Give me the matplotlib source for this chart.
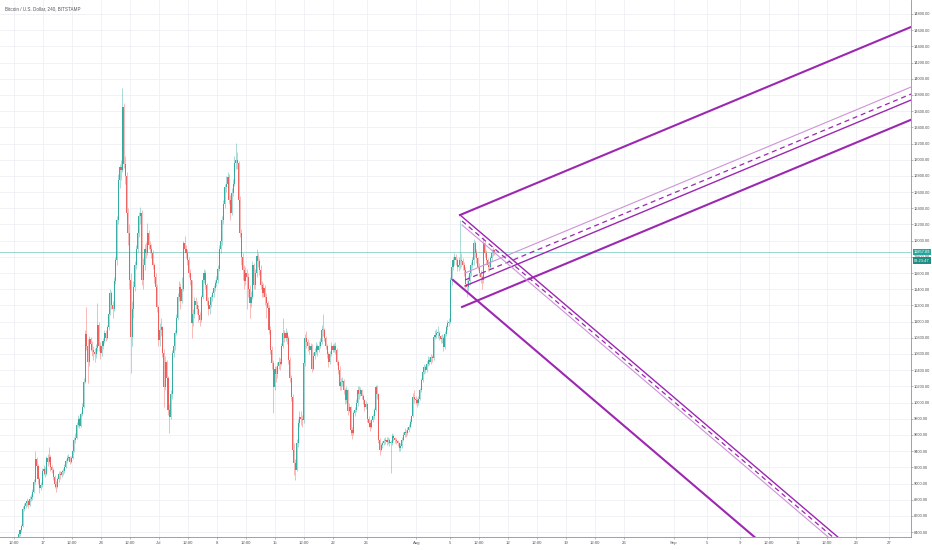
import numpy as np
import matplotlib
matplotlib.use('Agg')
import matplotlib.pyplot as plt
from matplotlib.transforms import blended_transform_factory

# ── data: BTC/USD 4h candles, days counted from 1 Jul ─────────────────────────
START_DAY  = -17          # first candle = 14 Jun 00:00
FIRST_OPEN = 8300
LAST_PRICE = 11857.89

close = [
    8380, 8420, 8470, 8690, 8720, 8760,        # Jun 14
    8780, 8740, 8810, 8830, 8900, 9020,
    9300, 9220, 9050, 8950, 8980, 9150,
    9180, 9120, 9310, 9270, 9330, 9200,
    9170, 9080, 8990, 8960, 9050, 9120,
    9100, 9140, 9150, 9210, 9280, 9320,
    9330, 9270, 9310, 9400, 9540, 9560,        # Jun 20
    9720, 9800, 9710, 9860, 9950, 10250,
    10850, 10700, 10500, 10780, 10720, 10650,
    10620, 10600, 10680, 10960, 10700, 10610,
    10700, 10760, 10860, 10800, 10935, 11100,
    11350, 11200, 11150, 11500, 11760, 12255,
    12750, 12910, 12870, 13650, 12950, 12800,  # Jun 26
    12340, 12100, 11510, 10810, 11150, 11430,
    11700, 11900, 12100, 12300, 12340, 11510,
    11700, 11900, 11850, 12100, 11950, 11900,
    11850, 11700, 11550, 11430, 11180, 10770,
    10900, 10935, 10610, 10190, 10500, 10300,  # Jul 1
    9910, 9825, 10100, 10610, 10700, 10860,
    11050, 11300, 11430, 11250, 11400, 11970,
    11900, 11850, 11760, 11600, 11510, 10985,
    11100, 11250, 11200, 11150, 11080, 11020,
    11300, 11510, 11600, 11450, 11250, 11150,
    11200, 11300, 11350, 11420, 11480, 11510,
    11650, 11900, 12000, 12255, 12450, 12665,  # Jul 8
    12700, 12790, 12500, 12340, 12590, 12700,
    12960, 12995, 12960, 12500, 12100, 11800,
    11640, 11500, 11600, 11550, 11400, 11230,
    11300, 11700, 11450, 11600, 11810, 11750,
    11640, 11450, 11350, 11420, 11300, 11230,
    11170, 10900, 10650, 10490, 10190, 10420,
    10350, 10450, 10500, 10480, 10700, 10860,  # Jul 15
    10800, 10860, 10800, 10530, 10300, 10070,
    9415, 9250, 9170, 9500, 9750, 9825,
    9800, 9780, 10490, 10800, 10750, 10700,
    10650, 10700, 10420, 10580, 10620, 10700,
    10650, 10700, 10750, 10900, 10900, 10800,
    10700, 10600, 10500, 10600, 10700, 10650,
    10700, 10650, 10500, 10400, 10200, 10250,  # Jul 22
    10270, 10150, 10030, 10150, 9900, 9950,
    9660, 9625, 9870, 9910, 10000, 10160,
    10100, 10160, 10080, 10030, 9950, 9980,
    9800, 9750, 9700, 9780, 9830, 9910,
    10190, 10100, 9540, 9415, 9470, 9500,
    9520, 9540, 9510, 9540, 9500, 9500,
    9590, 9560, 9540, 9520, 9500, 9440,        # Jul 29
    9460, 9540, 9600, 9640, 9620, 9660,
    9700, 9760, 9830, 10070, 10050, 10030,
    10000, 10050, 10150, 10280, 10380, 10440,  # Aug 1
    10400, 10480, 10530, 10500, 10560, 10550,
    10810, 10840, 10860, 10860, 10820, 10780,
    10800, 10690, 10850, 10935, 10985, 11000,
    11510, 11680, 11760, 11800, 11760, 11680,  # Aug 5
    11700, 11760, 11750, 11700, 11640, 11470,
    11430, 11500, 11600, 11700, 11760, 11970,
    11850, 11780, 11680, 11600, 11550, 11510,
    11970, 11850, 11760, 11700, 11680, 11780,
    11850, 11880, 11858,
]

high = [
    8400, 8440, 8500, 8720, 8760, 8790,
    8820, 8800, 8840, 8870, 8930, 9060,
    9400, 9330, 9240, 9080, 9020, 9190,
    9230, 9200, 9340, 9360, 9450, 9350,
    9230, 9190, 9100, 9030, 9080, 9150,
    9150, 9170, 9190, 9240, 9300, 9350,
    9360, 9340, 9340, 9420, 9570, 9620,
    9760, 9850, 9820, 9880, 9990, 10300,
    10900, 11180, 10780, 10820, 10810, 10760,
    10700, 10680, 10720, 11230, 10990, 10750,
    10740, 10800, 10900, 10900, 10960, 11150,
    11400, 11380, 11260, 11550, 11800, 12300,
    12820, 12950, 13000, 13880, 13700, 13050,
    12850, 12400, 12200, 11600, 11250, 11500,
    11750, 11950, 12150, 12360, 12420, 12380,
    11780, 11960, 11980, 12220, 12130, 12000,
    11960, 11880, 11730, 11600, 11460, 11200,
    10980, 11050, 10950, 10660, 10580, 10520,
    10330, 9980, 10150, 10650, 10760, 10900,
    11100, 11350, 11500, 11480, 11550, 12000,
    12060, 11950, 11900, 11800, 11650, 11520,
    11150, 11300, 11300, 11250, 11200, 11120,
    11330, 11550, 11650, 11640, 11480, 11300,
    11250, 11330, 11380, 11450, 11520, 11560,
    11700, 11950, 12080, 12300, 12500, 12700,
    12800, 12850, 12820, 12560, 12650, 12760,
    13050, 13210, 13100, 12980, 12550, 12150,
    11850, 11700, 11680, 11650, 11600, 11450,
    11380, 11750, 11720, 11650, 11900, 11850,
    11780, 11700, 11500, 11480, 11450, 11350,
    11260, 11200, 10950, 10700, 10520, 10450,
    10450, 10500, 10560, 10550, 10730, 11045,
    10900, 10920, 10880, 10820, 10560, 10340,
    10100, 9500, 9300, 9550, 9800, 9900,
    9900, 9850, 10520, 10850, 10890, 10780,
    10750, 10740, 10720, 10620, 10680, 10750,
    10720, 10760, 10800, 10960, 11100, 10920,
    10820, 10720, 10620, 10640, 10750, 10720,
    10730, 10750, 10680, 10520, 10450, 10300,
    10320, 10290, 10180, 10200, 10170, 10000,
    9960, 9700, 9900, 9950, 10050, 10200,
    10200, 10190, 10170, 10100, 10050, 10020,
    9990, 9830, 9780, 9800, 9860, 9930,
    10220, 10220, 10120, 9560, 9500, 9530,
    9560, 9580, 9570, 9570, 9560, 9540,
    9620, 9610, 9580, 9560, 9540, 9510,
    9500, 9570, 9640, 9680, 9660, 9700,
    9730, 9800, 9850, 10120, 10150, 10080,
    10060, 10080, 10180, 10300, 10400, 10480,
    10470, 10510, 10580, 10560, 10600, 10590,
    10840, 10900, 10910, 10950, 10880, 10840,
    10850, 10820, 10880, 10960, 11020, 11050,
    11550, 11720, 11800, 11850, 11830, 11780,
    11800, 12250, 11850, 11780, 11740, 11680,
    11520, 11560, 11650, 11740, 11800, 12020,
    12000, 11900, 11800, 11720, 11640, 11580,
    12050, 12000, 11880, 11790, 11750, 11810,
    11900, 11920, 11900,
]

low = [
    8280, 8350, 8400, 8460, 8660, 8700,
    8720, 8700, 8720, 8780, 8800, 8880,
    9000, 9180, 9000, 8880, 8920, 8960,
    9100, 9080, 9100, 9220, 9240, 9160,
    9130, 9040, 8950, 8900, 8940, 9020,
    9060, 9080, 9110, 9130, 9190, 9250,
    9290, 9240, 9250, 9300, 9390, 9500,
    9550, 9700, 9680, 9700, 9840, 9930,
    10240, 10650, 10240, 10450, 10640, 10580,
    10520, 10500, 10550, 10640, 10640, 10540,
    10580, 10660, 10730, 10760, 10780, 10900,
    11080, 11160, 11050, 11130, 11460, 11700,
    12200, 12650, 12750, 12850, 12900, 12700,
    12250, 11950, 11400, 10370, 10700, 11050,
    11380, 11650, 11860, 12050, 12200, 11450,
    11400, 11640, 11780, 11820, 11900, 11850,
    11780, 11650, 11480, 11380, 11120, 10700,
    10700, 10820, 10560, 9945, 10150, 10200,
    9850, 9625, 9800, 10050, 10560, 10650,
    10840, 11020, 11250, 11150, 11230, 11380,
    11850, 11780, 11700, 11550, 11450, 10800,
    10950, 11050, 11150, 11100, 11000, 10950,
    11000, 11280, 11480, 11400, 11200, 11080,
    11100, 11180, 11260, 11310, 11380, 11440,
    11480, 11620, 11850, 11950, 12200, 12400,
    12600, 12650, 12450, 12250, 12320, 12550,
    12680, 12880, 12880, 12450, 12050, 11700,
    11520, 11400, 11450, 11150, 11300, 11050,
    11180, 11280, 11400, 11400, 11550, 11680,
    11580, 11400, 11300, 11300, 11200, 11050,
    11100, 10850, 10600, 10420, 9870, 10150,
    10250, 10300, 10420, 10400, 10460, 10680,
    10750, 10760, 10720, 10480, 10260, 10020,
    9380, 9100, 9045, 9150, 9450, 9700,
    9720, 9700, 9750, 10450, 10680, 10640,
    10600, 10620, 10380, 10400, 10540, 10600,
    10580, 10630, 10680, 10720, 10820, 10760,
    10660, 10550, 10440, 10480, 10580, 10620,
    10620, 10600, 10460, 10350, 10150, 10150,
    10200, 10100, 9980, 10000, 9850, 9880,
    9600, 9550, 9600, 9840, 9880, 9960,
    10050, 10080, 10040, 9980, 9900, 9920,
    9760, 9700, 9650, 9680, 9760, 9800,
    9900, 10050, 9500, 9350, 9400, 9440,
    9470, 9490, 9470, 9490, 9460, 9130,
    9480, 9530, 9500, 9490, 9460, 9400,
    9400, 9440, 9520, 9580, 9580, 9600,
    9640, 9690, 9740, 9820, 10000, 9980,
    9950, 9970, 10030, 10130, 10250, 10350,
    10360, 10380, 10450, 10460, 10480, 10500,
    10530, 10780, 10800, 10800, 10770, 10730,
    10740, 10640, 10660, 10820, 10900, 10940,
    10980, 11450, 11640, 11700, 11700, 11630,
    11620, 11650, 11680, 11640, 11560, 11420,
    11300, 11380, 11450, 11560, 11660, 11700,
    11800, 11720, 11640, 11560, 11480, 11400,
    11480, 11800, 11700, 11620, 11620, 11650,
    11750, 11810, 11820,
]

# pitchfork drawings: anchor (day, price) and slope in price per day
asc_start_day   = [36.27, 36.87, 36.87, 36.87, 36.51]
asc_start_price = [12317, 11601, 11514, 11440, 11181]
asc_style       = ['thick', 'thin', 'dash', 'mid', 'thick']
asc_slope       = 42.75

desc_start_day   = [36.27, 36.51, 36.51, 35.42]
desc_start_price = [12317, 12243, 12194, 11514]
desc_style       = ['mid', 'dash', 'thin', 'thick']
desc_slope       = -87.4

# axis ticks
price_ticks = list(range(8400, 14801, 200))
x_ticks  = [-17.5, -14, -10.5, -7, -3.5, 0, 3.5, 7, 10.5, 14, 17.5, 21, 25,
            31, 35, 38.5, 42, 45.5, 49, 52.5, 56, 62, 66, 70, 73.5, 77, 80.5,
            84, 88]
x_labels = ['12:00', '17', '12:00', '24', '12:00', 'Jul', '12:00', '8', '12:00',
            '15', '12:00', '22', '26', 'Aug', '5', '12:00', '12', '12:00', '19',
            '12:00', '26', 'Sep', '5', '9', '12:00', '16', '12:00', '23', '27']

UP, DOWN = '#26a69a', '#ef5350'
PURPLE, LILAC = '#9c27b0', '#ce93d8'
X_MIN, X_MAX = -19.16, 90.6
Y_MIN, Y_MAX = 8339.4, 14972.9

plt.rcParams['font.family'] = ['Liberation Sans', 'DejaVu Sans']

fig = plt.figure(figsize=(9.32, 5.5), dpi=100)
ax = fig.add_axes([0, 13 / 550, 911 / 932, 537 / 550])

c = np.array(close, dtype=float)
o = np.concatenate([[FIRST_OPEN], c[:-1]])
h = np.maximum(np.array(high, dtype=float), np.maximum(o, c))
l = np.minimum(np.array(low, dtype=float), np.minimum(o, c))
t = START_DAY + (np.arange(len(c)) + 0.5) / 6
col = np.where(c >= o, UP, DOWN)

ax.vlines(t, l, h, colors=col, linewidth=0.55, alpha=0.5, zorder=3)
body = np.maximum(np.abs(c - o), 8)
ax.bar(t, body, bottom=np.minimum(o, c), width=0.75 / 6, color=col,
       alpha=0.9, linewidth=0, zorder=4)

# current price line
ax.axhline(LAST_PRICE, color=UP, linewidth=0.7, alpha=0.45, zorder=2)

# pitchfork lines
styles = {
    'thick': dict(color=PURPLE, linewidth=1.5, linestyle='-'),
    'mid':   dict(color=PURPLE, linewidth=1.0, linestyle='-'),
    'thin':  dict(color=LILAC,  linewidth=0.8, linestyle='-'),
    'dash':  dict(color=PURPLE, linewidth=0.9, linestyle=(0, (4, 3))),
}
for d0, p0, st in zip(asc_start_day, asc_start_price, asc_style):
    xs = np.array([d0, X_MAX])
    ax.plot(xs, p0 + asc_slope * (xs - d0), zorder=5, **styles[st])
for d0, p0, st in zip(desc_start_day, desc_start_price, desc_style):
    xs = np.array([d0, X_MAX])
    ax.plot(xs, p0 + desc_slope * (xs - d0), zorder=5, **styles[st])

ax.set_xlim(X_MIN, X_MAX)
ax.set_ylim(Y_MIN, Y_MAX)

# grid and axes look
ax.set_yticks(price_ticks)
ax.set_yticklabels([f'{p:.2f}' for p in price_ticks])
ax.set_xticks(x_ticks)
ax.set_xticklabels(x_labels)
ax.yaxis.tick_right()
ax.grid(True, color='#eef0f5', linewidth=0.6, zorder=0)
ax.set_axisbelow(True)
ax.tick_params(axis='y', length=1.5, width=0.5, color='#9aa0a6', pad=0.8,
               labelsize=2.9, labelcolor='#555555')
ax.tick_params(axis='x', length=1.5, width=0.5, color='#9aa0a6', pad=1.5,
               labelsize=3.1, labelcolor='#555555')
for side in ['top', 'left']:
    ax.spines[side].set_visible(False)
for side in ['right', 'bottom']:
    ax.spines[side].set_color('#8e9399')
    ax.spines[side].set_linewidth(0.6)

# last price tags on the price scale
tr = blended_transform_factory(ax.transAxes, ax.transData)
ax.text(1.003, LAST_PRICE, f'{LAST_PRICE:.2f}', transform=tr, fontsize=2.9,
        color='white', ha='left', va='center', clip_on=False,
        bbox=dict(boxstyle='square,pad=0.3', fc=UP, ec='none'))
ax.text(1.003, LAST_PRICE - 105, '03:23:47', transform=tr, fontsize=2.9,
        color='white', ha='left', va='center', clip_on=False,
        bbox=dict(boxstyle='square,pad=0.3', fc='#1f8f84', ec='none'))

ax.text(0.005, 0.988, 'Bitcoin / U.S. Dollar, 240, BITSTAMP',
        transform=ax.transAxes, fontsize=3.3, color='#555555',
        ha='left', va='top')

fig.savefig('out.png', dpi=100, facecolor='white')
